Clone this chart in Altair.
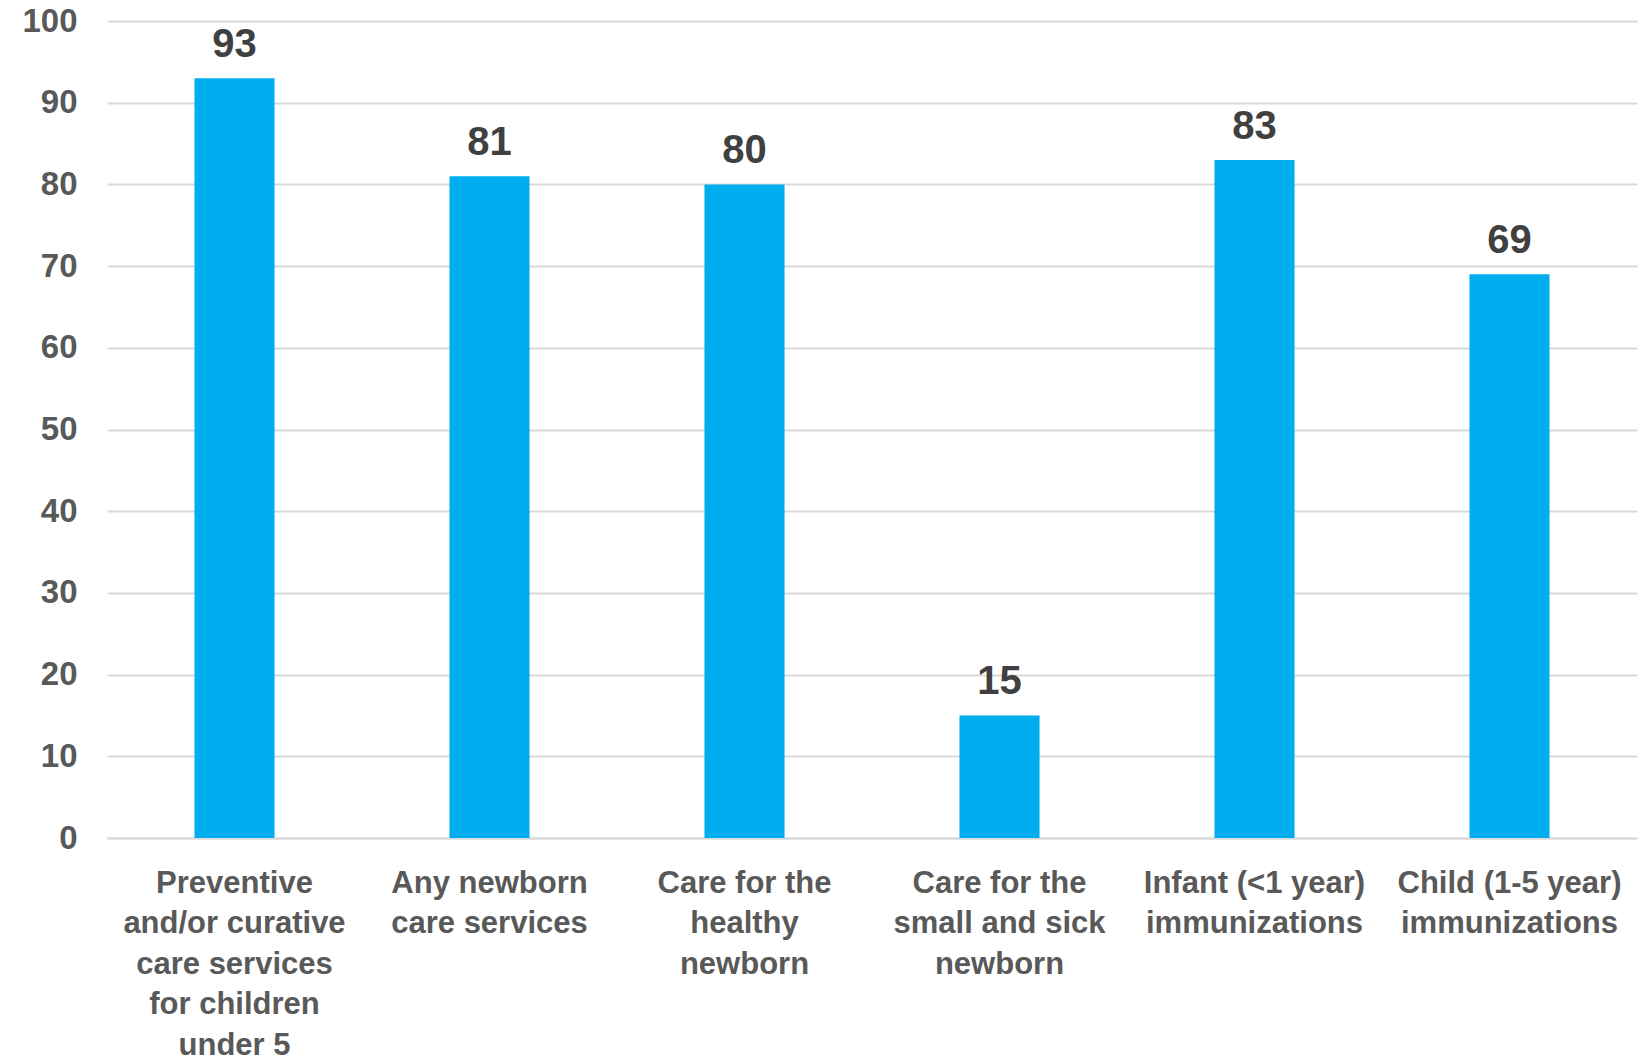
import altair as alt
import pandas as pd

categories = [
    "Preventive|and/or curative|care services|for children|under 5",
    "Any newborn|care services",
    "Care for the|healthy|newborn",
    "Care for the|small and sick|newborn",
    "Infant (<1 year)|immunizations",
    "Child (1-5 year)|immunizations",
]
values = [93, 81, 80, 15, 83, 69]
y_ticks = [0, 10, 20, 30, 40, 50, 60, 70, 80, 90, 100]

df = pd.DataFrame({"cat": categories, "val": values})

FONT = "Liberation Sans"

base = alt.Chart(df).encode(
    x=alt.X(
        "cat:N",
        sort=categories,
        title=None,
        scale=alt.Scale(paddingInner=0.686, paddingOuter=0.343),
        axis=alt.Axis(
            labelExpr="split(datum.label, '|')",
            labelAngle=0,
            labelFont=FONT,
            labelFontSize=31,
            labelFontWeight="bold",
            labelColor="#595959",
            labelLineHeight=40.5,
            labelPadding=30,
            labelBaseline="top",
            labelLimit=0,
            ticks=False,
            domain=True,
            domainColor="#d9d9d9",
            domainWidth=2,
            grid=False,
        ),
    ),
    y=alt.Y(
        "val:Q",
        title=None,
        scale=alt.Scale(domain=[0, 100], nice=False),
        axis=alt.Axis(
            values=y_ticks,
            labelFont=FONT,
            labelFontSize=33,
            labelFontWeight="bold",
            labelColor="#595959",
            labelPadding=30,
            ticks=False,
            domain=False,
            grid=True,
            gridColor="#d9d9d9",
            gridWidth=2,
        ),
    ),
)

bars = base.mark_bar(color="#00AEEF")
text = base.mark_text(
    baseline="bottom", dy=-13, font=FONT, fontSize=40, fontWeight="bold", color="#404040"
).encode(text="val:Q")

chart = (bars + text).properties(
    width=1530,
    height=817,
    padding={"left": 107, "top": 21, "right": 8, "bottom": 218},
    autosize=alt.AutoSizeParams(type="none"),
).configure_view(stroke=None)

chart.save("out.html", embed_options={"renderer": "svg", "actions": False})
